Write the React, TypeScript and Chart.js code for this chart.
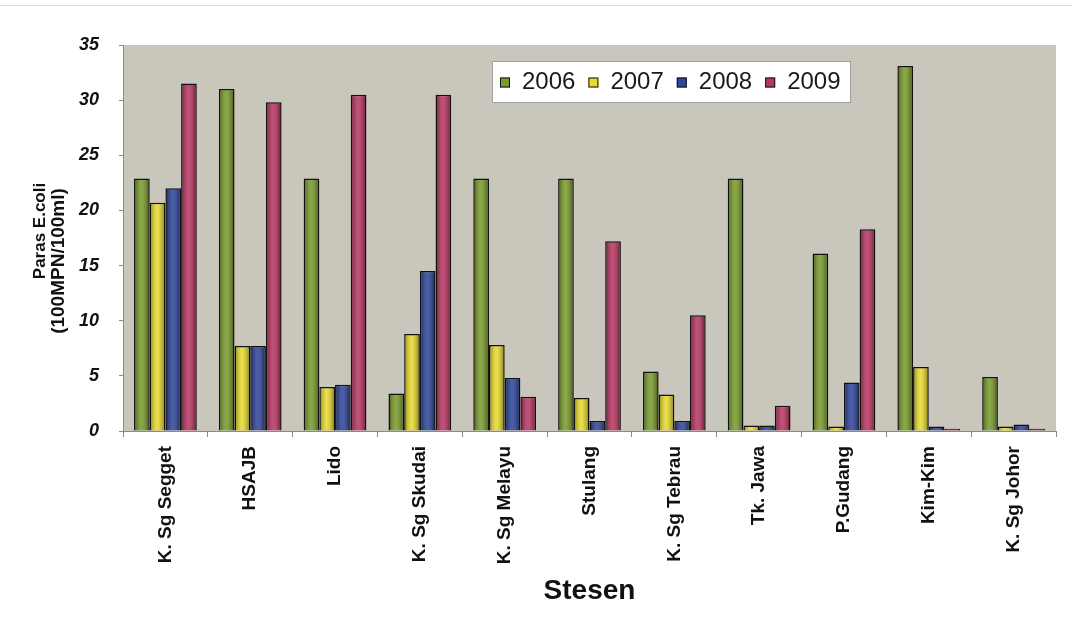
import React, { useEffect, useRef } from "react";
import { Chart, registerables } from "chart.js";

Chart.register(...registerables);

const stations = [
  "K. Sg Segget",
  "HSAJB",
  "Lido",
  "K. Sg Skudai",
  "K. Sg Melayu",
  "Stulang",
  "K. Sg Tebrau",
  "Tk. Jawa",
  "P.Gudang",
  "Kim-Kim",
  "K. Sg Johor",
];
const years = ["2006", "2007", "2008", "2009"];
const values2006 = [22.9, 31.0, 22.9, 3.4, 22.9, 22.9, 5.4, 22.9, 16.1, 33.1, 4.9];
const values2007 = [20.7, 7.7, 4.0, 8.8, 7.8, 3.0, 3.3, 0.5, 0.4, 5.8, 0.4];
const values2008 = [22.0, 7.7, 4.2, 14.5, 4.8, 0.9, 0.9, 0.5, 4.4, 0.4, 0.6];
const values2009 = [31.5, 29.8, 30.5, 30.5, 3.1, 17.2, 10.5, 2.3, 18.3, 0.2, 0.2];
const yTicks = [0, 5, 10, 15, 20, 25, 30, 35];
const yTitleLines = ["Paras E.coli", "(100MPN/100ml)"];
const xTitle = "Stesen";
const seriesColors = ["#7a9c2e", "#e8db30", "#30469a", "#b83763"];

const FONT = "'Liberation Sans', Arial, sans-serif";

const bgPlugin = {
  id: "plotBg",
  beforeDraw(chart: any) {
    const { ctx, chartArea } = chart;
    ctx.save();
    ctx.fillStyle = "#ffffff";
    ctx.fillRect(0, 0, chart.width, chart.height);
    ctx.strokeStyle = "#dcdcdc";
    ctx.lineWidth = 1;
    ctx.beginPath();
    ctx.moveTo(0, 5.5);
    ctx.lineTo(chart.width, 5.5);
    ctx.stroke();
    ctx.fillStyle = "#c9c6bc";
    ctx.fillRect(chartArea.left, chartArea.top, chartArea.right - chartArea.left, chartArea.bottom - chartArea.top);
    ctx.restore();
  },
};

const shadePlugin = {
  id: "barShade",
  afterDatasetsDraw(chart: any) {
    const { ctx } = chart;
    ctx.save();
    chart.data.datasets.forEach((_: any, di: number) => {
      const meta = chart.getDatasetMeta(di);
      meta.data.forEach((bar: any) => {
        const left = bar.x - bar.width / 2 + 1.5;
        const right = bar.x + bar.width / 2 - 1.5;
        const top = Math.min(bar.y, bar.base) + 1.5;
        const bottom = Math.max(bar.y, bar.base) - 0.5;
        if (right <= left || bottom <= top) return;
        const g = ctx.createLinearGradient(left, 0, right, 0);
        g.addColorStop(0, "rgba(0,0,0,0.28)");
        g.addColorStop(0.45, "rgba(255,255,255,0.12)");
        g.addColorStop(1, "rgba(0,0,0,0.32)");
        ctx.fillStyle = g;
        ctx.fillRect(left, top, right - left, bottom - top);
      });
    });
    ctx.restore();
  },
};

const yTitlePlugin = {
  id: "yTitle",
  afterDraw(chart: any) {
    const { ctx } = chart;
    const specs = [
      { text: yTitleLines[0], x: 40, y: 231, size: 17 },
      { text: yTitleLines[1], x: 59, y: 261, size: 19 },
    ];
    ctx.save();
    ctx.fillStyle = "#111";
    ctx.textAlign = "center";
    ctx.textBaseline = "middle";
    specs.forEach((s) => {
      ctx.save();
      ctx.translate(s.x, s.y);
      ctx.rotate(-Math.PI / 2);
      ctx.font = `bold ${s.size}px ${FONT}`;
      ctx.fillText(s.text, 0, 0);
      ctx.restore();
    });
    ctx.restore();
  },
};

const legendPlugin = {
  id: "insideLegend",
  afterDatasetsDraw(chart: any) {
    const { ctx } = chart;
    const x0 = 492;
    const y0 = 61;
    const w = 358;
    const h = 41;
    ctx.save();
    ctx.fillStyle = "#ffffff";
    ctx.fillRect(x0, y0, w, h);
    ctx.strokeStyle = "#a0a0a0";
    ctx.lineWidth = 1;
    ctx.strokeRect(x0 + 0.5, y0 + 0.5, w, h);
    ctx.font = `24px ${FONT}`;
    ctx.textBaseline = "middle";
    let x = x0 + 8;
    const cy = y0 + h / 2 + 1;
    chart.data.datasets.forEach((ds: any) => {
      ctx.fillStyle = ds.backgroundColor;
      ctx.fillRect(x, cy - 5, 10, 10);
      ctx.strokeStyle = "#111";
      ctx.lineWidth = 1;
      ctx.strokeRect(x + 0.5, cy - 4.5, 9, 9);
      ctx.fillStyle = "#1a1a1a";
      ctx.fillText(ds.label, x + 22, cy);
      x += 22 + ctx.measureText(ds.label).width + 13;
    });
    ctx.restore();
  },
};

export default function App() {
  const ref = useRef<HTMLCanvasElement>(null);
  useEffect(() => {
    document.body.style.margin = "0";
    const seriesValues = [values2006, values2007, values2008, values2009];
    const chart = new Chart(ref.current!, {
      type: "bar",
      data: {
        labels: stations,
        datasets: years.map((y, i) => ({
          label: y,
          data: seriesValues[i],
          backgroundColor: seriesColors[i],
          borderColor: "#111111",
          borderWidth: 1.5,
          categoryPercentage: 0.74,
          barPercentage: 1.0,
        })),
      },
      options: {
        animation: false,
        responsive: false,
        maintainAspectRatio: false,
        layout: { padding: { left: 0, right: 16, top: 45, bottom: 8 } },
        plugins: {
          legend: { display: false },
          tooltip: { enabled: false },
        },
        scales: {
          x: {
            offset: true,
            grid: {
              offset: true,
              drawOnChartArea: false,
              color: "#8a8a8a",
              tickLength: 6,
            },
            border: { color: "#8a8a8a", width: 1 },
            ticks: {
              minRotation: 90,
              maxRotation: 90,
              autoSkip: false,
              color: "#111",
              font: { family: FONT, size: 19, weight: "bold" },
              padding: 9,
            },
            title: {
              display: true,
              text: xTitle,
              color: "#111",
              font: { family: FONT, size: 28, weight: "bold" },
              padding: { top: 0, bottom: 2 },
            },
            afterFit: (s: any) => {
              s.height = 618 - 431 - 8;
            },
          },
          y: {
            min: 0,
            max: 35,
            afterBuildTicks: (s: any) => {
              s.ticks = yTicks.map((v) => ({ value: v }));
            },
            grid: { drawOnChartArea: false, color: "#8a8a8a", tickLength: 4 },
            border: { color: "#8a8a8a", width: 1 },
            ticks: {
              color: "#111",
              font: { family: FONT, size: 18, weight: "bold", style: "italic" },
              padding: 20,
            },
            afterFit: (s: any) => {
              s.width = 123;
            },
          },
        },
      },
      plugins: [bgPlugin, shadePlugin, legendPlugin, yTitlePlugin],
    });
    return () => chart.destroy();
  }, []);
  return (
    <div style={{ width: 1072, height: 618 }}>
      <canvas ref={ref} width={1072} height={618} style={{ display: "block" }} />
    </div>
  );
}
